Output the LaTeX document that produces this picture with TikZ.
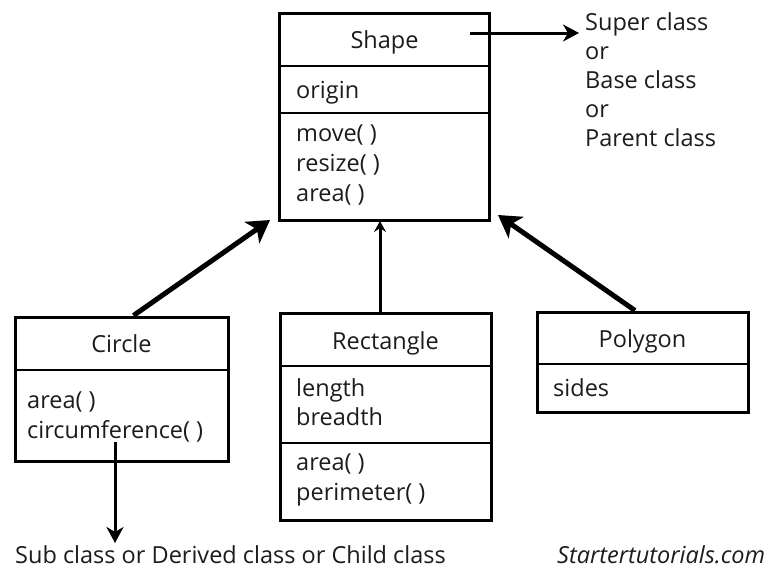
\documentclass[tikz,border=0pt]{standalone}
\usepackage{fontspec}
\setmainfont{Open Sans}
\usetikzlibrary{arrows.meta}
\definecolor{ink}{RGB}{28,28,28}
\begin{document}
\begin{tikzpicture}[x=1pt,y=-1pt,
  umlbox/.style={draw,line width=3pt,inner sep=0pt},
  divider/.style={line width=1.4pt},
  lbl/.style={anchor=base west,inner sep=0pt,text=ink,font=\fontsize{23.5}{28}\selectfont},
  title/.style={anchor=base,inner sep=0pt,text=ink,font=\fontsize{23.5}{28}\selectfont},
  bigarrow/.style={line width=5pt,-{Stealth[length=22pt,width=26pt,inset=6pt]}},
  thinarrow/.style={line width=3pt,-{Stealth[length=11pt,width=12pt,inset=4pt]}},
  notearrow/.style={line width=3pt,-{Stealth[length=16pt,width=17pt,inset=5pt]}}]
\useasboundingbox (0,0) rectangle (776,570);

% Shape (base class)
\node[umlbox,minimum width=210pt,minimum height=207pt] (shape) at (384.5,116.5) {};
\draw[divider] (279.5,66) -- (489.5,66);
\draw[divider] (279.5,113) -- (489.5,113);
\node[title] (shapeT) at (384.5,48) {Shape};
\node[lbl] (shapeA) at (296,98) {origin};
\node[lbl] (shapeM1) at (296,141) {move( )};
\node[lbl] (shapeM2) at (296,171) {resize( )};
\node[lbl] (shapeM3) at (296,201) {area( )};

% Circle
\node[umlbox,minimum width=213pt,minimum height=144pt] (circ) at (121.5,389) {};
\draw[divider] (15,370) -- (228,370);
\node[title] (circT) at (121.5,352) {Circle};
\node[lbl] (circM1) at (27,408) {area( )};
\node[lbl] (circM2) at (27,438) {circumference( )};

% Rectangle
\node[umlbox,minimum width=211pt,minimum height=207pt] (rect) at (385.5,416.5) {};
\draw[divider] (280,366) -- (491,366);
\draw[divider] (280,443) -- (491,443);
\node[title] (rectT) at (385.5,349) {Rectangle};
\node[lbl] (rectA1) at (296,396) {length};
\node[lbl] (rectA2) at (296,425) {breadth};
\node[lbl] (rectM1) at (296,470) {area( )};
\node[lbl] (rectM2) at (296,500) {perimeter( )};

% Polygon
\node[umlbox,minimum width=211pt,minimum height=100pt] (poly) at (642.5,362) {};
\draw[divider] (537,364) -- (748,364);
\node[title] (polyT) at (642.5,347) {Polygon};
\node[lbl] (polyA) at (553,396) {sides};

% Notes
\node[lbl] (superT) at (585,30) {Super class};
\node[lbl] (or1) at (585,59) {or};
\node[lbl] (baseT) at (585,88) {Base class};
\node[lbl] (or2) at (585,117) {or};
\node[lbl] (parentT) at (585,146) {Parent class};
\node[lbl] (subT) at (15,563) {Sub class or Derived class or Child class};
\node[lbl,font=\fontsize{23.5}{28}\selectfont\itshape] (site) at (557,563) {Startertutorials.com};

% Connectors
\coordinate (superFrom) at (470,33);
\coordinate (circTip) at (270,220);
\coordinate (rectTip) at (380,221);
\coordinate (polyTip) at (498,215);
\coordinate (subTip) at (115,543);
\draw[notearrow,shorten >=6pt] (superFrom) -- (superT.west |- superFrom);
\draw[bigarrow] ([xshift=12pt]circ.north) -- (circTip);
\draw[thinarrow] (rect.north -| rectTip) -- (rectTip);
\draw[bigarrow] ([xshift=-7.5pt]poly.north) -- (polyTip);
\draw[notearrow] (circM2.south -| subTip) -- (subTip);
\end{tikzpicture}
\end{document}
